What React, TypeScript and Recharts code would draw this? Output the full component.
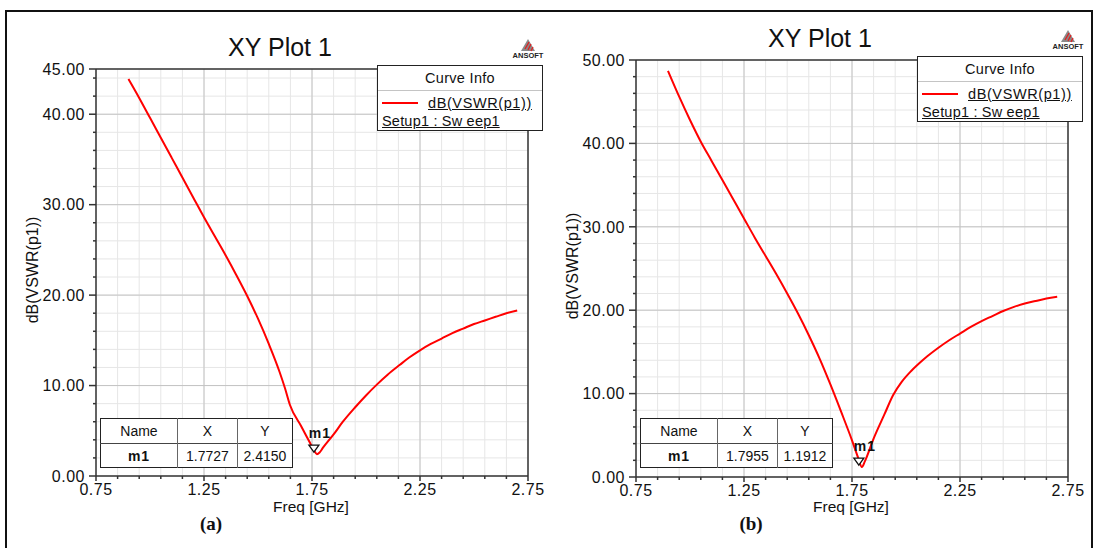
import { CartesianGrid, Line, LineChart, ReferenceDot, ReferenceLine, XAxis, YAxis } from "recharts";

// (a) dB(VSWR(p1)) vs Freq [GHz]
const freqA = [0.9, 0.95, 1.0, 1.05, 1.1, 1.15, 1.2, 1.25, 1.3, 1.35, 1.4, 1.45, 1.5, 1.55, 1.6, 1.625, 1.648, 1.7, 1.74, 1.76, 1.7727, 1.785, 1.8, 1.85, 1.893, 1.95, 2.0, 2.05, 2.1, 2.157, 2.2, 2.25, 2.3, 2.35, 2.4, 2.45, 2.5, 2.55, 2.6, 2.65, 2.7];
const vswrA = [43.9, 41.8, 39.6, 37.4, 35.2, 33.0, 30.8, 28.6, 26.5, 24.4, 22.2, 19.9, 17.4, 14.6, 11.5, 9.7, 7.85, 5.5, 3.7, 2.8, 2.415, 2.6, 3.1, 4.6, 6.0, 7.6, 8.9, 10.1, 11.2, 12.3, 13.1, 13.9, 14.6, 15.2, 15.8, 16.3, 16.8, 17.2, 17.6, 18.0, 18.3];

// (b)
const freqB = [0.898, 0.95, 1.0, 1.05, 1.1, 1.15, 1.2, 1.25, 1.3, 1.35, 1.4, 1.45, 1.5, 1.55, 1.6, 1.65, 1.7, 1.75, 1.78, 1.7955, 1.81, 1.85, 1.9, 1.94, 1.98, 2.02, 2.06, 2.1, 2.15, 2.2, 2.25, 2.3, 2.35, 2.4, 2.45, 2.5, 2.55, 2.6, 2.65, 2.7];
const vswrB = [48.7, 45.6, 42.8, 40.2, 37.9, 35.6, 33.3, 31.0, 28.7, 26.5, 24.3, 22.0, 19.6, 17.0, 14.2, 11.1, 7.8, 4.4, 2.2, 1.1912, 1.9, 4.6, 7.5, 9.8, 11.4, 12.6, 13.6, 14.5, 15.5, 16.4, 17.2, 18.0, 18.7, 19.3, 19.9, 20.4, 20.8, 21.1, 21.4, 21.6];

const freqTicks = [0.75, 0.85, 0.95, 1.05, 1.15, 1.25, 1.35, 1.45, 1.55, 1.65, 1.75, 1.85, 1.95, 2.05, 2.15, 2.25, 2.35, 2.45, 2.55, 2.65, 2.75];
const freqLabels = [0.75, 1.25, 1.75, 2.25, 2.75];

const yTicksA = [0, 2, 4, 6, 8, 10, 12, 14, 16, 18, 20, 22, 24, 26, 28, 30, 32, 34, 36, 38, 40, 42, 44, 45];
const yLabelsA = [0, 10, 20, 30, 40, 45];
const yTicksB = [0, 2, 4, 6, 8, 10, 12, 14, 16, 18, 20, 22, 24, 26, 28, 30, 32, 34, 36, 38, 40, 42, 44, 46, 48, 50];
const yLabelsB = [0, 10, 20, 30, 40, 50];

const markerA = { name: "m1", x: 1.7727, y: 2.415 };
const markerB = { name: "m1", x: 1.7955, y: 1.1912 };

const fontFamily = '"Liberation Sans", Arial, sans-serif';
const ink = "#111";
const red = "#ff0000";

function YTick({ x, y, payload, labels }: any) {
  const major = labels.includes(payload.value);
  return (
    <g>
      <line x1={x - (major ? 7 : 3)} x2={x} y1={y} y2={y} stroke="#333" strokeWidth={1.5} />
      {major ? (
        <text x={x - 11} y={y} dy="0.36em" textAnchor="end" fontFamily={fontFamily} fontSize={16} letterSpacing={0.5} fill={ink}>
          {payload.value.toFixed(2)}
        </text>
      ) : null}
    </g>
  );
}

function XTick({ x, y, payload }: any) {
  const major = freqLabels.includes(payload.value);
  return (
    <g>
      <line x1={x} x2={x} y1={y} y2={y + (major ? 5 : 3)} stroke="#333" strokeWidth={1.5} />
      {major ? (
        <text x={x} y={y + 13} dy="0.36em" textAnchor="middle" fontFamily={fontFamily} fontSize={16} letterSpacing={0.5} fill={ink}>
          {payload.value.toFixed(2)}
        </text>
      ) : null}
    </g>
  );
}

function MarkerShape({ cx, cy, name }: any) {
  return (
    <g>
      <path d={`M${cx - 8},${cy - 9} L${cx + 2},${cy - 9} L${cx - 3},${cy - 2} Z`} fill="#fff" stroke="#111" strokeWidth={1.3} />
      <text x={cx + 3} y={cy - 16} textAnchor="middle" fontFamily={fontFamily} fontWeight="bold" fontSize={14} letterSpacing={1} fill={ink}>
        {name}
      </text>
    </g>
  );
}

function AnsoftLogo({ left, top }: { left: number; top: number }) {
  return (
    <div style={{ position: "absolute", left: left - 18, top, width: 36, height: 22 }}>
      <svg width={36} height={14} style={{ display: "block" }}>
        <path d="M18,1 L25,13 L11,13 Z" fill="#8a8a8a" />
        <path d="M19,4 L15,11 M21,6 L18,12 M23,9 L21,13" stroke="#e02020" strokeWidth={1.3} />
      </svg>
      <div style={{ fontFamily, fontSize: 7.5, fontWeight: "bold", textAlign: "center", color: "#222", lineHeight: "8px" }}>ANSOFT</div>
    </div>
  );
}

function CurveInfo({ left, top }: { left: number; top: number }) {
  return (
    <div
      style={{
        position: "absolute",
        left,
        top,
        width: 166,
        height: 66,
        border: "1.5px solid #222",
        background: "#fff",
        boxSizing: "border-box",
        fontFamily,
        color: ink,
        fontSize: 14.5,
      }}
    >
      <div style={{ height: 24, borderBottom: "1px solid #c4c4c4", textAlign: "center", lineHeight: "24px", letterSpacing: 0.3 }}>Curve Info</div>
      <div style={{ display: "flex", alignItems: "center", height: 20, marginTop: 2 }}>
        <span style={{ width: 36, height: 2.5, background: red, marginLeft: 4, marginRight: 10 }} />
        <span style={{ textDecoration: "underline", letterSpacing: 0.6 }}>dB(VSWR(p1))</span>
      </div>
      <div style={{ paddingLeft: 4, textDecoration: "underline", lineHeight: "16px", letterSpacing: 0.2 }}>Setup1 : Sw eep1</div>
    </div>
  );
}

function MarkerTable({ left, top, marker }: any) {
  const cell = { borderLeft: "1px solid #666", textAlign: "center" as const, padding: 0 };
  return (
    <table
      style={{
        position: "absolute",
        left,
        top,
        width: 193,
        height: 49,
        borderCollapse: "collapse",
        border: "1.5px solid #222",
        background: "#fff",
        fontFamily,
        fontSize: 14,
        color: ink,
      }}
    >
      <tbody>
        <tr style={{ height: 25, borderBottom: "1.5px solid #444" }}>
          <td style={{ ...cell, width: 76, borderLeft: "none" }}>Name</td>
          <td style={{ ...cell, width: 59 }}>X</td>
          <td style={cell}>Y</td>
        </tr>
        <tr style={{ height: 24 }}>
          <td style={{ ...cell, borderLeft: "none", fontWeight: "bold", letterSpacing: 1 }}>{marker.name}</td>
          <td style={cell}>{marker.x.toFixed(4)}</td>
          <td style={cell}>{marker.y.toFixed(4)}</td>
        </tr>
      </tbody>
    </table>
  );
}

function Panel({ left, freq, vswr, yMax, yTicks, yLabels, plotTop, plotBottom, shift, marker, caption }: any) {
  const data = freq.map((f: number, i: number) => ({ f, v: vswr[i] }));
  const plotMid = (plotTop + plotBottom) / 2;
  return (
    <div style={{ position: "absolute", left, top: 0, width: 545, height: 548 }}>
      <LineChart width={545} height={548} data={data} margin={{ top: plotTop, right: 17, bottom: 0, left: 0 }} style={{ position: "absolute", left: 0, top: 0 }}>
        <CartesianGrid stroke="#e6e6e6" strokeWidth={1} />
        {freqLabels.slice(1, -1).map((f) => (
          <ReferenceLine key={`vx${f}`} x={f} stroke="#c4c4c4" strokeWidth={1} />
        ))}
        {yLabels.slice(1, -1).map((v: number) => (
          <ReferenceLine key={`hy${v}`} y={v} stroke="#c4c4c4" strokeWidth={1} />
        ))}
        <ReferenceLine x={2.75} stroke="#333" strokeWidth={1.5} />
        <ReferenceLine y={yMax} stroke="#333" strokeWidth={1.5} />
        <XAxis
          dataKey="f"
          type="number"
          domain={[0.75, 2.75]}
          ticks={freqTicks}
          interval={0}
          height={548 - plotBottom}
          tickSize={0}
          tickMargin={0}
          axisLine={{ stroke: "#333", strokeWidth: 1.5 }}
          tickLine={false}
          tick={<XTick />}
          allowDataOverflow
        />
        <YAxis
          type="number"
          domain={[0, yMax]}
          ticks={yTicks}
          interval={0}
          width={96}
          tickSize={0}
          tickMargin={0}
          axisLine={{ stroke: "#333", strokeWidth: 1.5 }}
          tickLine={false}
          tick={<YTick labels={yLabels} />}
          allowDataOverflow
        />
        <Line dataKey="v" type="monotone" stroke={red} strokeWidth={2} dot={false} isAnimationActive={false} />
        <ReferenceDot x={marker.x} y={marker.y} r={3} shape={(p: any) => <MarkerShape {...p} name={marker.name} />} />
      </LineChart>

      <div style={{ position: "absolute", left: 280, top: 47 + shift, transform: "translate(-50%,-50%)", fontFamily, fontSize: 25, color: ink, whiteSpace: "nowrap" }}>
        XY Plot 1
      </div>
      <AnsoftLogo left={528} top={38 + shift} />
      <CurveInfo left={377} top={65 + shift} />
      <div
        style={{
          position: "absolute",
          left: 33,
          top: plotMid - 3,
          transform: "translate(-50%,-50%) rotate(-90deg)",
          fontFamily,
          fontSize: 16,
          color: ink,
          whiteSpace: "nowrap",
        }}
      >
        dB(VSWR(p1))
      </div>
      <MarkerTable left={100} top={418} marker={marker} />
      <div style={{ position: "absolute", left: 311, top: 507, transform: "translate(-50%,-50%)", fontFamily, fontSize: 15.5, color: ink, whiteSpace: "nowrap" }}>
        Freq [GHz]
      </div>
      <div
        style={{
          position: "absolute",
          left: 211,
          top: 524,
          transform: "translate(-50%,-50%)",
          fontFamily: '"Liberation Serif", "Times New Roman", serif',
          fontWeight: "bold",
          fontSize: 19,
          color: ink,
        }}
      >
        {caption}
      </div>
    </div>
  );
}

export default function App() {
  return (
    <div style={{ position: "absolute", left: 0, top: 0, width: 1099, height: 548, overflow: "hidden", background: "#fff" }}>
      <div style={{ position: "absolute", left: 5, top: 10, width: 1088, height: 600, border: "2px solid #111", boxSizing: "border-box" }} />
      <Panel
        left={0}
        freq={freqA}
        vswr={vswrA}
        yMax={45}
        yTicks={yTicksA}
        yLabels={yLabelsA}
        plotTop={69}
        plotBottom={476}
        shift={0}
        marker={markerA}
        caption="(a)"
      />
      <Panel
        left={540}
        freq={freqB}
        vswr={vswrB}
        yMax={50}
        yTicks={yTicksB}
        yLabels={yLabelsB}
        plotTop={60}
        plotBottom={477}
        shift={-9}
        marker={markerB}
        caption="(b)"
      />
    </div>
  );
}
